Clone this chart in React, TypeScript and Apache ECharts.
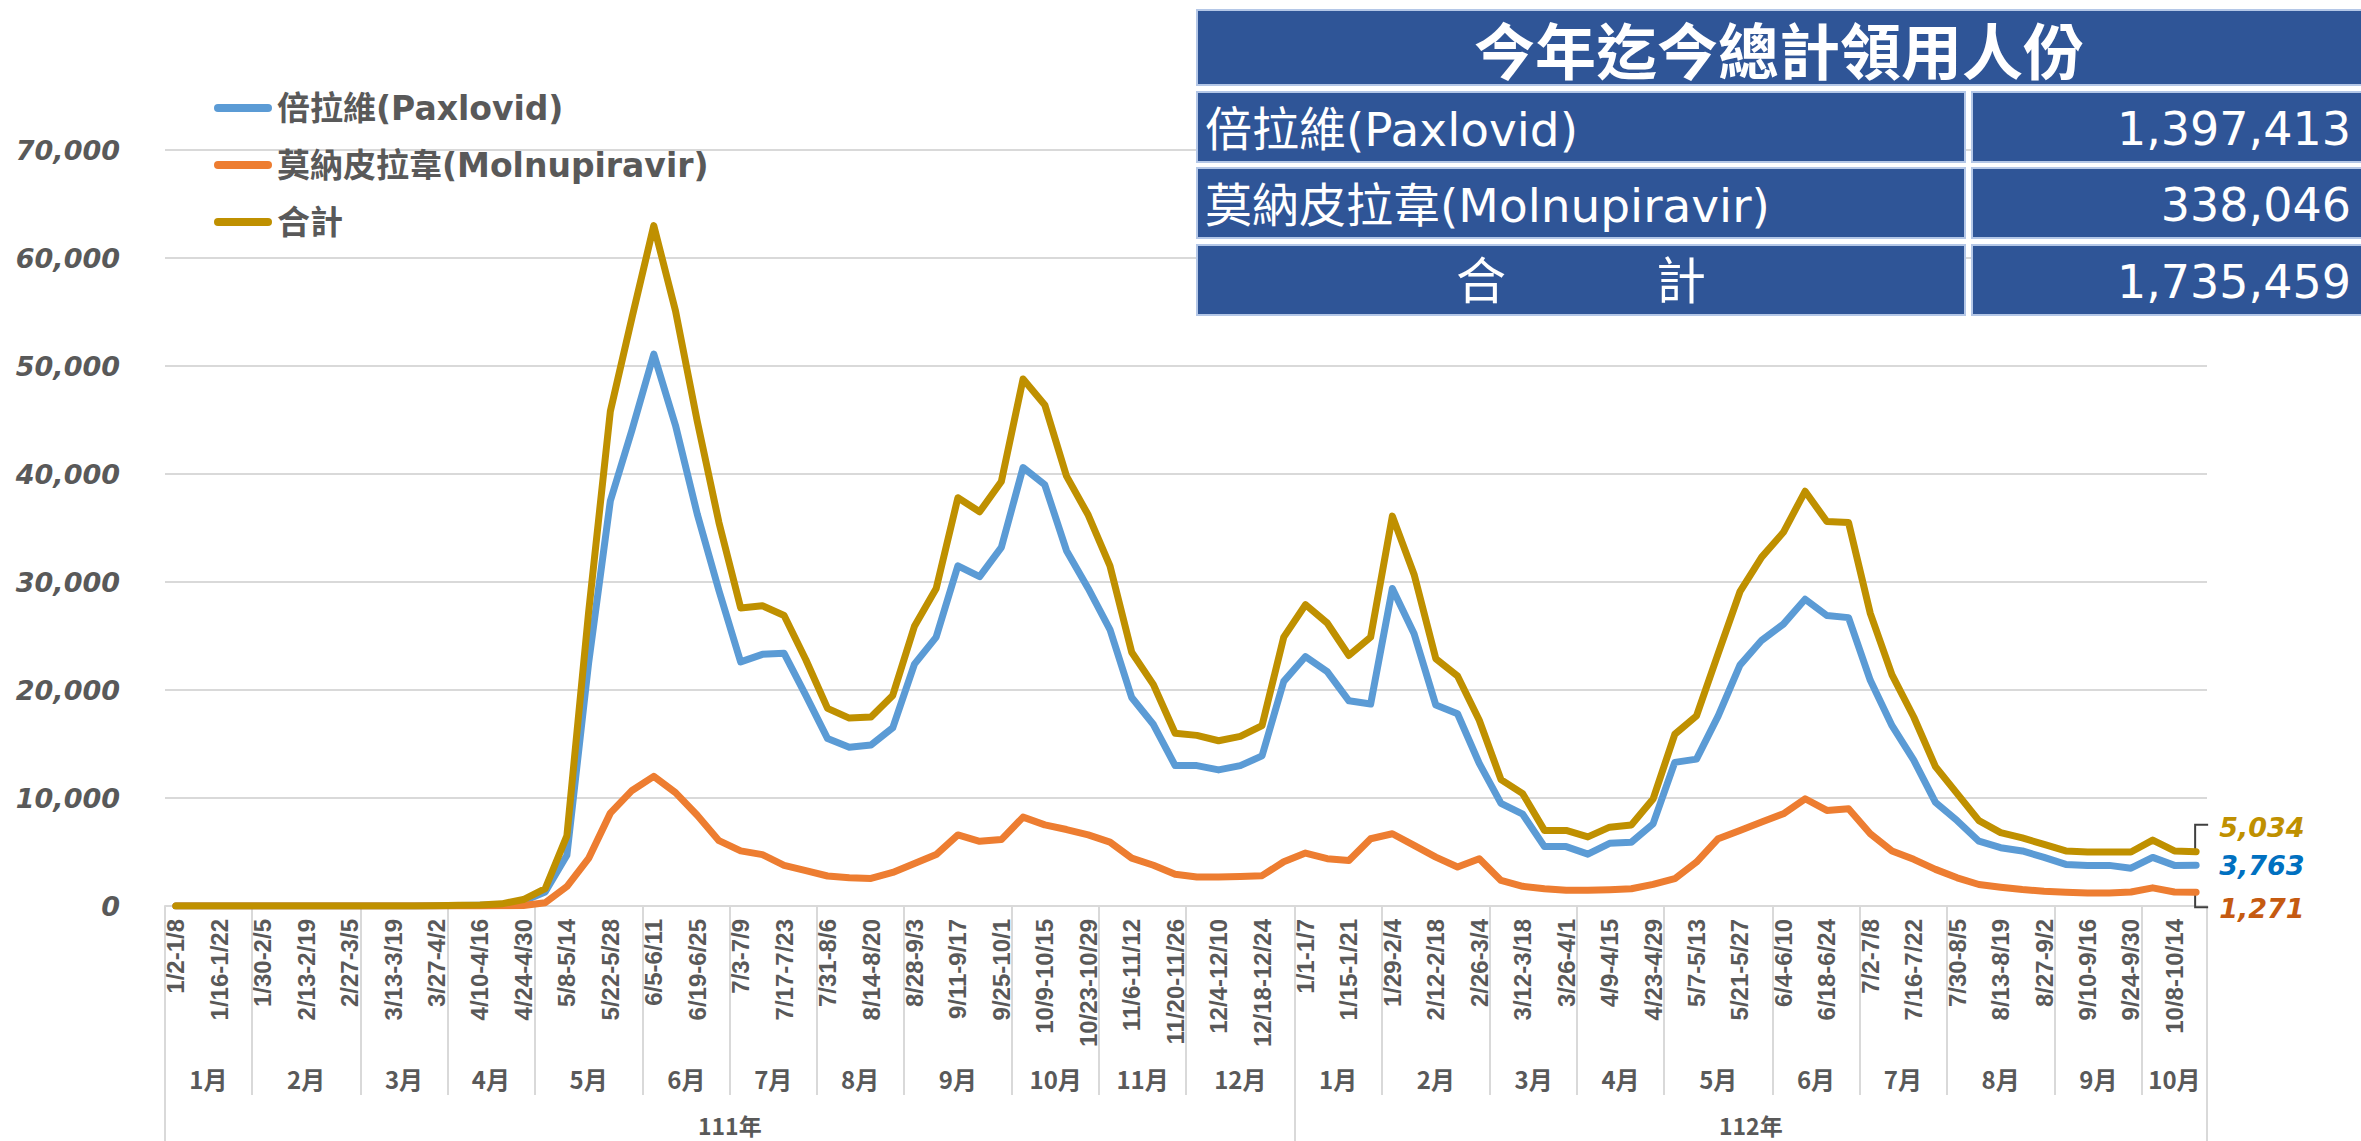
import React, { useEffect, useRef } from "react";
import * as echarts from "echarts";

const weekLabels = [
  "1/2-1/8", "1/9-1/15", "1/16-1/22", "1/23-1/29", "1/30-2/5", "2/6-2/12", "2/13-2/19", "2/20-2/26",
  "2/27-3/5", "3/6-3/12", "3/13-3/19", "3/20-3/26", "3/27-4/2", "4/3-4/9", "4/10-4/16", "4/17-4/23",
  "4/24-4/30", "5/1-5/7", "5/8-5/14", "5/15-5/21", "5/22-5/28", "5/29-6/4", "6/5-6/11", "6/12-6/18",
  "6/19-6/25", "6/26-7/2", "7/3-7/9", "7/10-7/16", "7/17-7/23", "7/24-7/30", "7/31-8/6", "8/7-8/13",
  "8/14-8/20", "8/21-8/27", "8/28-9/3", "9/4-9/10", "9/11-9/17", "9/18-9/24", "9/25-10/1", "10/2-10/8",
  "10/9-10/15", "10/16-10/22", "10/23-10/29", "10/30-11/5", "11/6-11/12", "11/13-11/19", "11/20-11/26", "11/27-12/3",
  "12/4-12/10", "12/11-12/17", "12/18-12/24", "12/25-12/31",
  "1/1-1/7", "1/8-1/14", "1/15-1/21", "1/22-1/28", "1/29-2/4", "2/5-2/11", "2/12-2/18", "2/19-2/25",
  "2/26-3/4", "3/5-3/11", "3/12-3/18", "3/19-3/25", "3/26-4/1", "4/2-4/8", "4/9-4/15", "4/16-4/22",
  "4/23-4/29", "4/30-5/6", "5/7-5/13", "5/14-5/20", "5/21-5/27", "5/28-6/3", "6/4-6/10", "6/11-6/17",
  "6/18-6/24", "6/25-7/1", "7/2-7/8", "7/9-7/15", "7/16-7/22", "7/23-7/29", "7/30-8/5", "8/6-8/12",
  "8/13-8/19", "8/20-8/26", "8/27-9/2", "9/3-9/9", "9/10-9/16", "9/17-9/23", "9/24-9/30", "10/1-10/7",
  "10/8-10/14", "10/15-10/21",
];

const paxlovid = [
  0, 0, 0, 0, 0, 0, 0, 0, 0, 0, 0, 0,
  20, 40, 60, 120, 450, 1300, 4700,
  22500, 37500, 44100, 51100, 44500, 36300, 29200,
  22600, 23300, 23400, 19500, 15500, 14700, 14900, 16500, 22400, 24900,
  31500, 30500, 33200, 40600, 39000, 32900, 29400, 25600, 19300, 16800,
  13000, 13000, 12600, 13000, 13900, 20800, 23100, 21700, 19000, 18700,
  29400, 25200, 18600, 17800, 13200, 9500, 8500, 5500, 5500, 4800,
  5800, 5900, 7600, 13300, 13600, 17600, 22300, 24600, 26100, 28400,
  26900, 26700, 20900, 16700, 13500, 9600, 7900, 6000, 5400, 5100,
  4500, 3850, 3760, 3760, 3500, 4500, 3760, 3763,
];

const molnupiravir = [
  0, 0, 0, 0, 0, 0, 0, 0, 0, 0, 0, 0, 0, 0, 0,
  20, 50, 300, 1800,
  4400, 8600, 10700, 12000, 10500, 8400, 6050,
  5100, 4760, 3770, 3270, 2780, 2610, 2550, 3110, 3940, 4760,
  6580, 5990, 6150, 8230, 7510, 7080, 6580, 5920, 4430, 3770,
  2940, 2680, 2680, 2740, 2810, 4100, 4900, 4380, 4220, 6230,
  6690, 5610, 4530, 3610, 4380, 2370, 1820, 1600, 1450, 1450,
  1510, 1600, 2000, 2530, 4070, 6230, 7000, 7770, 8540, 9930,
  8850, 9000, 6690, 5100, 4320, 3390, 2610, 1990, 1740, 1520,
  1370, 1270, 1210, 1210, 1300, 1680, 1300, 1271,
];

const total = [
  0, 0, 0, 0, 0, 0, 0, 0, 0, 0, 0, 0,
  30, 60, 100, 200, 600, 1600, 6500,
  27200, 45800, 54500, 63000, 55100, 44900, 35500,
  27600, 27800, 26900, 22800, 18300, 17400, 17500, 19500, 25900, 29400,
  37800, 36500, 39300, 48800, 46400, 39800, 36200, 31500, 23500, 20500,
  16000, 15800, 15300, 15700, 16700, 24900, 27900, 26200, 23200, 24900,
  36100, 30700, 22900, 21300, 17200, 11700, 10400, 7000, 7000, 6400,
  7300, 7500, 9900, 15900, 17600, 23400, 29100, 32300, 34600, 38400,
  35600, 35500, 27100, 21400, 17500, 12900, 10400, 7900, 6800, 6300,
  5700, 5100, 5000, 5000, 5000, 6100, 5100, 5034,
];

const seriesNames = ["倍拉維(Paxlovid)", "莫納皮拉韋(Molnupiravir)", "合計"];
const monthNames = [
  "1月", "2月", "3月", "4月", "5月", "6月", "7月", "8月", "9月", "10月", "11月", "12月",
  "1月", "2月", "3月", "4月", "5月", "6月", "7月", "8月", "9月", "10月",
];
const monthWeekCounts = [4, 5, 4, 4, 5, 4, 4, 4, 5, 4, 4, 5, 4, 5, 4, 4, 5, 4, 4, 5, 4, 3];
const yearNames = ["111年", "112年"];
const yearWeekCounts = [52, 42];
const yMin = 0;
const yMax = 70000;
const yInterval = 10000;

const tableTitle = "今年迄今總計領用人份";
const tableNames = ["倍拉維(Paxlovid)", "莫納皮拉韋(Molnupiravir)", "合　　　計"];
const tableValues = ["1,397,413", "338,046", "1,735,459"];

const lineColors = ["#5B9BD5", "#ED7D31", "#BF9000"];
const labelColors = ["#0070C0", "#C55A11", "#BF9000"];
const gray = "#595959";
const gridGray = "#D9D9D9";

function groupStarts(counts: number[]) {
  const starts: number[] = [];
  let acc = 0;
  counts.forEach((c) => {
    starts.push(acc);
    acc += c;
  });
  return starts;
}

export default function App() {
  const ref = useRef<HTMLDivElement>(null);

  useEffect(() => {
    const el = ref.current;
    if (!el) return;
    const chart = echarts.init(el, null, { renderer: "svg" });

    const monthStarts = groupStarts(monthWeekCounts);
    const yearStarts = groupStarts(yearWeekCounts);
    const monthStartSet = new Set(monthStarts);
    const yearStartSet = new Set(yearStarts);
    const monthCenters = new Map<number, string>();
    monthStarts.forEach((s, i) => monthCenters.set(s + monthWeekCounts[i] / 2, monthNames[i]));
    const yearCenters = new Map<number, string>();
    yearStarts.forEach((s, i) => yearCenters.set(s + yearWeekCounts[i] / 2, yearNames[i]));
    const nWeeks = weekLabels.length;

    const fmt = (v: number) => Number(v).toLocaleString("en-US");
    const labelFont = {
      fontFamily: "DejaVu Sans",
      fontWeight: "bold" as const,
      fontStyle: "italic" as const,
      fontSize: 27,
    };
    const endOffsets = [[15, 0], [15, 16], [15, -24]];
    const dataSets = [paxlovid, molnupiravir, total];

    const option: any = {
      animation: false,
      backgroundColor: "#ffffff",
      grid: { left: 165, right: 154, top: 150, bottom: 235, containLabel: false },
      legend: {
        orient: "vertical",
        left: 209,
        top: 85,
        itemWidth: 58,
        itemHeight: 8,
        itemGap: 21,
        icon: "path://M4,0L54,0A4,4,0,0,1,54,8L4,8A4,4,0,0,1,4,0Z",
        textStyle: {
          fontSize: 33,
          fontWeight: "bold",
          color: gray,
          fontFamily: "DejaVu Sans, 'Noto Sans CJK TC'",
          lineHeight: 36,
        },
        data: seriesNames,
      },
      xAxis: [
        {
          type: "category",
          data: weekLabels,
          boundaryGap: true,
          position: "bottom",
          axisLine: { show: true, lineStyle: { color: gridGray, width: 2 } },
          axisTick: {
            show: true,
            alignWithLabel: false,
            interval: (i: number) => monthStartSet.has(i),
            length: 189,
            lineStyle: { color: gridGray, width: 2 },
          },
          axisLabel: {
            interval: (i: number) => i % 2 === 0,
            rotate: 90,
            margin: 13,
            fontFamily: "Liberation Sans",
            fontWeight: "bold",
            fontSize: 24,
            color: gray,
          },
          splitLine: { show: false },
        },
        {
          type: "category",
          data: weekLabels,
          boundaryGap: true,
          position: "bottom",
          axisLine: { show: false },
          axisTick: {
            show: true,
            alignWithLabel: false,
            interval: (i: number) => yearStartSet.has(i),
            length: 240,
            lineStyle: { color: gridGray, width: 2 },
          },
          axisLabel: { show: false },
          splitLine: { show: false },
        },
        {
          type: "value",
          min: 0,
          max: nWeeks,
          interval: 0.5,
          position: "bottom",
          axisLine: { show: false },
          axisTick: { show: false },
          splitLine: { show: false },
          axisLabel: {
            margin: 172,
            verticalAlign: "middle",
            formatter: (v: number) => monthCenters.get(Math.round(v * 2) / 2) ?? "",
            fontFamily: "'Noto Sans CJK TC'",
            fontWeight: "bold",
            fontSize: 24,
            color: gray,
          },
        },
        {
          type: "value",
          min: 0,
          max: nWeeks,
          interval: 0.5,
          position: "bottom",
          axisLine: { show: false },
          axisTick: { show: false },
          splitLine: { show: false },
          axisLabel: {
            margin: 219,
            verticalAlign: "middle",
            formatter: (v: number) => yearCenters.get(Math.round(v * 2) / 2) ?? "",
            fontFamily: "'Noto Sans CJK TC'",
            fontWeight: "bold",
            fontSize: 23,
            color: gray,
          },
        },
      ],
      yAxis: {
        type: "value",
        min: yMin,
        max: yMax,
        interval: yInterval,
        axisLine: { show: false },
        axisTick: { show: false },
        splitLine: { show: true, lineStyle: { color: gridGray, width: 2 } },
        axisLabel: {
          margin: 45,
          formatter: (v: number) => fmt(v),
          color: gray,
          ...labelFont,
        },
      },
      series: seriesNames.map((name, k) => ({
        name,
        type: "line",
        xAxisIndex: 0,
        yAxisIndex: 0,
        data: dataSets[k],
        symbol: "none",
        showSymbol: false,
        smooth: false,
        color: lineColors[k],
        itemStyle: { color: lineColors[k] },
        lineStyle: { color: lineColors[k], width: 7, cap: "round", join: "round" },
        endLabel: {
          show: true,
          formatter: (p: any) => fmt(Array.isArray(p.value) ? p.value[1] : p.value),
          offset: endOffsets[k],
          color: labelColors[k],
          ...labelFont,
        },
        z: 2 + k,
      })),
    };

    chart.setOption(option);

    const lastIdx = nWeeks - 1;
    const pTotal = chart.convertToPixel({ seriesIndex: 2 }, [lastIdx, total[lastIdx]]) as number[];
    const pMol = chart.convertToPixel({ seriesIndex: 1 }, [lastIdx, molnupiravir[lastIdx]]) as number[];

    const tLeft = 1197;
    const tRight = 2361;
    const splitX = 1965;
    const gap = 7;
    const headerTop = 10;
    const headerH = 75;
    const rowTops = [92, 168, 245];
    const rowH = 70;
    const cellStyle = { fill: "#2F5597", stroke: "#B4C7E7", lineWidth: 2 };

    const graphics: any[] = [];
    graphics.push({
      type: "rect",
      z: 100,
      shape: { x: tLeft, y: headerTop, width: tRight - tLeft + 4, height: headerH },
      style: cellStyle,
    });
    graphics.push({
      type: "text",
      z: 101,
      x: (tLeft + tRight) / 2,
      y: headerTop + headerH / 2 + 1,
      style: {
        text: tableTitle,
        fill: "#ffffff",
        fontSize: 61,
        fontWeight: "bold",
        fontFamily: "'Noto Sans CJK TC'",
        align: "center",
        verticalAlign: "middle",
      },
    });
    rowTops.forEach((top, r) => {
      graphics.push({
        type: "rect",
        z: 100,
        shape: { x: tLeft, y: top, width: splitX - tLeft, height: rowH },
        style: cellStyle,
      });
      graphics.push({
        type: "rect",
        z: 100,
        shape: { x: splitX + gap, y: top, width: tRight - splitX - gap + 4, height: rowH },
        style: cellStyle,
      });
      const isTotal = r === rowTops.length - 1;
      graphics.push({
        type: "text",
        z: 101,
        x: isTotal ? (tLeft + splitX) / 2 : tLeft + 8,
        y: top + rowH / 2 + 2,
        style: {
          text: tableNames[r],
          fill: "#ffffff",
          fontSize: isTotal ? 50 : 47,
          fontFamily: "'DejaVu Sans', 'Noto Sans CJK TC'",
          align: isTotal ? "center" : "left",
          verticalAlign: "middle",
        },
      });
      graphics.push({
        type: "text",
        z: 101,
        x: tRight - 10,
        y: top + rowH / 2 + 2,
        style: {
          text: tableValues[r],
          fill: "#ffffff",
          fontSize: 46,
          fontFamily: "'DejaVu Sans'",
          align: "right",
          verticalAlign: "middle",
        },
      });
    });

    graphics.push({
      type: "polyline",
      z: 1,
      shape: {
        points: [
          [pTotal[0] - 1, pTotal[1]],
          [pTotal[0] - 1, pTotal[1] - 27],
          [pTotal[0] + 12, pTotal[1] - 27],
        ],
      },
      style: { stroke: "#404040", lineWidth: 2, fill: null },
    });
    graphics.push({
      type: "polyline",
      z: 1,
      shape: {
        points: [
          [pMol[0] - 1, pMol[1]],
          [pMol[0] - 1, pMol[1] + 15],
          [pMol[0] + 12, pMol[1] + 15],
        ],
      },
      style: { stroke: "#404040", lineWidth: 2, fill: null },
    });

    chart.setOption({ graphic: graphics });

    return () => {
      chart.dispose();
    };
  }, []);

  return (
    <div
      ref={ref}
      style={{ position: "fixed", left: 0, top: 0, width: 2361, height: 1141, background: "#ffffff" }}
    />
  );
}
